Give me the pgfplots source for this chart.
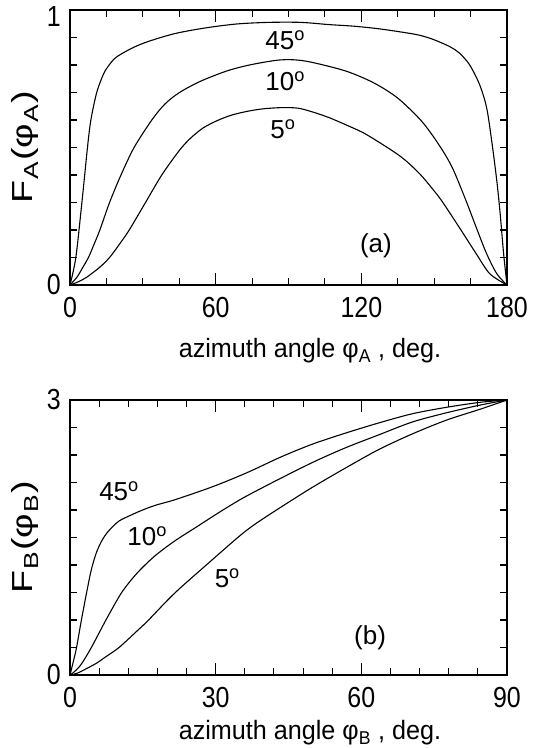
\documentclass[border=0pt]{standalone}
\usepackage{fontspec}
\setmainfont{Liberation Sans}
\newfontfamily\widesans[FakeStretch=1.3]{Liberation Sans}
\newfontfamily\narrowsans[FakeStretch=0.86]{Liberation Sans}
\newfontfamily\labelsans[FakeStretch=0.95]{Liberation Sans}
\usepackage{pgfplots}
\pgfplotsset{compat=1.18}

\newcommand{\angdeg}[1]{#1\textsuperscript{o}}
\newcommand{\sub}[1]{\hspace{1pt}\textsubscript{#1}\hspace{1pt}}

\tikzset{
  lab/.style={font=\fontsize{26pt}{30pt}\selectfont, inner sep=0pt},
  axlab/.style={font=\labelsans\fontsize{26.5pt}{30pt}\selectfont, inner sep=0pt, anchor=base},
  ylab/.style={font=\widesans\fontsize{29pt}{34pt}\selectfont, inner sep=0pt, anchor=base, rotate=90},
}

\pgfplotsset{
  panel/.style={
    scale only axis,
    width=437pt, height=275pt,
    axis line style={line width=1.6pt},
    tick style={line width=1.1pt, black},
    tick align=inside,
    major tick length=12pt, minor tick length=7pt,
    /pgf/number format/assume math mode=true,
    ticklabel style={font=\narrowsans\fontsize{29pt}{34pt}\selectfont},
    xticklabel style={inner sep=0pt, yshift=-12pt},
    yticklabel style={inner sep=0pt, xshift=-9pt},
    clip=false,
  },
  curve/.style={black, line width=1.1pt, mark=none, smooth, tension=0.5},
}

\begin{document}
\fontsize{27pt}{32pt}\selectfont
\begin{tikzpicture}
\useasboundingbox (0pt,0pt) rectangle (533pt,748pt);

% (a) F_A versus the azimuth angle phi_A
\begin{axis}[panel,
  at={(70pt,463pt)}, anchor=south west,
  xmin=0, xmax=180, ymin=0, ymax=1,
  xtick={0,60,120,180}, minor x tick num=3,
  ytick={0,1}, yticklabels={0,\raisebox{-7pt}[\height][0pt]{1}},
  minor y tick num=9,
]
% 45 deg
\addplot[curve] coordinates {
(0,0) (2.4,0.1) (4.9,0.3) (7.2,0.5) (8.6,0.6) (11,0.7) (13.7,0.765)
(15.7,0.795) (19,0.828) (25.7,0.862) (32.4,0.886) (43.1,0.914) (55.2,0.934)
(68.5,0.949) (81.9,0.955) (95,0.955) (106.6,0.947) (117,0.941) (127.8,0.931)
(141.9,0.912) (148,0.898) (153.2,0.88) (157,0.864) (160.3,0.844)
(164.5,0.802) (168.7,0.729) (171.6,0.645) (173.7,0.524) (175.8,0.379)
(177.2,0.258) (178.6,0.114) (180,0)
};
% 10 deg
\addplot[curve] coordinates {
(0,0) (3,0.03) (5,0.06) (7.6,0.1) (10,0.15) (12.3,0.2) (16.3,0.3) (21,0.4)
(26.4,0.5) (33.7,0.6) (39.1,0.658) (45.1,0.7) (53.8,0.741) (64.5,0.778)
(73.9,0.8) (85,0.817) (92,0.819) (99.5,0.81) (113.6,0.778) (124.9,0.736)
(134.8,0.681) (144.7,0.597) (151.8,0.512) (157.4,0.428) (163.1,0.307)
(167.3,0.21) (171.6,0.114) (175.8,0.041) (180,0)
};
% 5 deg
\addplot[curve] coordinates {
(0,0) (3.5,0.012) (7,0.029) (12.3,0.065) (16.3,0.1) (20.5,0.15) (24.4,0.2)
(31.1,0.3) (37.8,0.4) (45.1,0.49) (49.8,0.535) (55,0.572) (61.2,0.6)
(67,0.619) (73.9,0.633) (80,0.641) (87.3,0.645) (93.9,0.643) (100,0.629)
(106.6,0.609) (113,0.585) (120.7,0.554) (127.5,0.518) (134.8,0.476)
(139.5,0.443) (144.7,0.398) (149,0.353) (153.2,0.305) (160.3,0.21)
(167.3,0.114) (172.9,0.041) (180,0)
};
\node[lab] at (axis cs:88.6,0.89) {\angdeg{45}};
\node[lab] at (axis cs:88.6,0.742) {\angdeg{10}};
\node[lab] at (axis cs:87.7,0.567) {\angdeg{5}};
\node[lab] at (axis cs:126,0.142) {(a)};
\node[ylab] at (rel axis cs:-0.085,0.5)
  {F\sub{A}(φ\sub{A})};
\node[axlab] at (rel axis cs:0.549,-0.265)
  {azimuth angle φ\textsubscript{A} , deg.};
\end{axis}

% (b) F_B versus the azimuth angle phi_B
\begin{axis}[panel,
  at={(70pt,73pt)}, anchor=south west,
  xmin=0, xmax=90, ymin=0, ymax=3,
  xtick={0,30,60,90}, minor x tick num=4,
  ytick={0,3}, minor y tick num=9,
]
% 45 deg
\addplot[curve] coordinates {
(0,0) (0.7,0.15) (1.35,0.3) (2.35,0.6) (3.5,0.92) (4.4,1.15) (5.4,1.33)
(6.4,1.45) (7.2,1.52) (8.1,1.58) (10.1,1.68) (12.8,1.75) (14.5,1.79)
(17.5,1.85) (21.5,1.91) (27.6,2.02) (31.6,2.1) (37,2.22) (43.5,2.38)
(50,2.52) (56.8,2.64) (63.6,2.75) (70.5,2.85) (77.5,2.92) (84.5,2.975)
(90,3)
};
% 10 deg
\addplot[curve] coordinates {
(0,0) (1,0.04) (2.35,0.12) (4.4,0.3) (7.4,0.6) (10.4,0.88) (12.5,1.03)
(14.5,1.15) (17.5,1.3) (21.5,1.46) (26.2,1.62) (30.9,1.78) (35.6,1.93)
(41.7,2.1) (50,2.32) (56.8,2.48) (63.6,2.62) (70.5,2.76) (77.5,2.86)
(84.5,2.945) (90,3)
};
% 5 deg
\addplot[curve] coordinates {
(0,0) (1.5,0.02) (3.4,0.07) (5.5,0.13) (7.4,0.2) (10.1,0.3) (13.8,0.48)
(16,0.59) (21.5,0.89) (28.5,1.22) (35,1.52) (38.5,1.66) (44,1.85)
(50,2.05) (56.8,2.26) (63.6,2.46) (70.5,2.63) (77.5,2.78) (84.5,2.9) (90,3)
};
\node[lab] at (axis cs:10.1,2.01) {\angdeg{45}};
\node[lab] at (axis cs:15.9,1.51) {\angdeg{10}};
\node[lab] at (axis cs:32.4,1.06) {\angdeg{5}};
\node[lab] at (axis cs:61.8,0.41) {(b)};
\node[ylab] at (rel axis cs:-0.085,0.5)
  {F\sub{B}(φ\sub{B})};
\node[axlab] at (rel axis cs:0.549,-0.236)
  {azimuth angle φ\textsubscript{B} , deg.};
\end{axis}
\end{tikzpicture}
\end{document}
